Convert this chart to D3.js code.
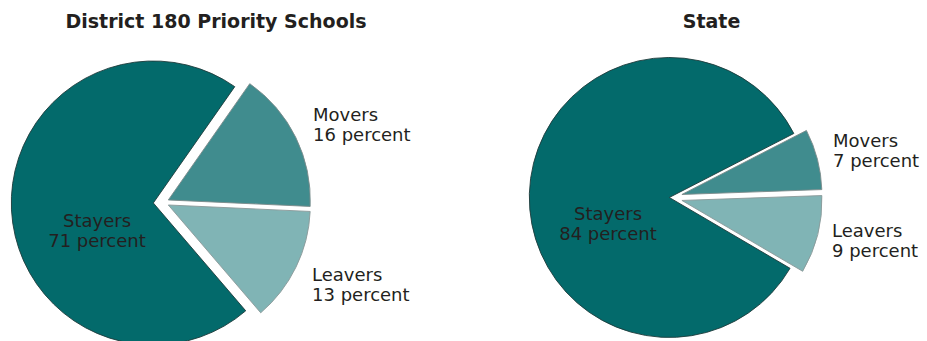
<!DOCTYPE html>
<html>
<head>
<meta charset="utf-8">
<script src="https://cdn.jsdelivr.net/npm/d3@7"></script>
<style>
  html, body { margin: 0; padding: 0; background: #fff; }
  svg { display: block; }
  text { font-family: "DejaVu Sans", Verdana, sans-serif; fill: #231f20; }
</style>
</head>
<body>
<svg id="chart" width="927" height="341"></svg>
<script>
// ---- data ----
const categories = ["Movers", "Leavers", "Stayers"];
const districtValues = [16, 13, 71];
const stateValues = [7, 9, 84];
const chartTitles = ["District 180 Priority Schools", "State"];
const valueSuffix = " percent";

// ---- styling / layout ----
const colors = { Stayers: "#036a6b", Movers: "#408c8e", Leavers: "#80b4b5" };
const strokes = { Stayers: "#1e3b3b", Movers: "#7a8a8a", Leavers: "#8a9898" };
const deg = Math.PI / 180;

const panels = [
  { title: chartTitles[0], values: districtValues, cx: 163.2, cy: 202.5, r: 142, start: 35 * deg,
    explode: { Stayers: 9.9, Movers: 5.7, Leavers: 5.7 }, titleX: 216, titleY: 28,
    labels: {
      Movers: { x: 313, y: 121, anchor: "start" },
      Leavers: { x: 312, y: 281, anchor: "start" },
      Stayers: { x: 97, y: 226.5, anchor: "middle" }
    } },
  { title: chartTitles[1], values: stateValues, cx: 670.3, cy: 197.5, r: 140, start: 62.8 * deg,
    explode: { Stayers: 1, Movers: 12, Leavers: 12 }, titleX: 711.5, titleY: 28,
    labels: {
      Movers: { x: 833, y: 146.5, anchor: "start" },
      Leavers: { x: 832, y: 236.5, anchor: "start" },
      Stayers: { x: 608, y: 219.5, anchor: "middle" }
    } }
];

const svg = d3.select("#chart");

panels.forEach(p => {
  const data = categories.map((c, i) => ({ cat: c, value: p.values[i] }));
  const pie = d3.pie().sort(null).value(d => d.value)
    .startAngle(p.start).endAngle(p.start + 2 * Math.PI);
  const arc = d3.arc().innerRadius(0).outerRadius(p.r);
  const arcs = pie(data);

  const g = svg.append("g").attr("transform", `translate(${p.cx},${p.cy})`);

  g.selectAll("path")
    .data(arcs)
    .join("path")
    .attr("d", arc)
    .attr("transform", d => {
      const mid = (d.startAngle + d.endAngle) / 2;
      const e = p.explode[d.data.cat];
      return `translate(${e * Math.sin(mid)},${-e * Math.cos(mid)})`;
    })
    .attr("fill", d => colors[d.data.cat])
    .attr("stroke", d => strokes[d.data.cat])
    .attr("stroke-width", 0.9)
    .attr("stroke-linejoin", "miter");

  svg.append("text")
    .attr("x", p.titleX).attr("y", p.titleY)
    .attr("text-anchor", "middle")
    .attr("font-size", 19).attr("font-weight", "bold")
    .text(p.title);

  data.forEach(d => {
    const L = p.labels[d.cat];
    const t = svg.append("text")
      .attr("text-anchor", L.anchor)
      .attr("font-size", 18);
    t.append("tspan").attr("x", L.x).attr("y", L.y).text(d.cat);
    t.append("tspan").attr("x", L.x).attr("y", L.y + 20).text(d.value + valueSuffix);
  });
});
</script>
</body>
</html>
